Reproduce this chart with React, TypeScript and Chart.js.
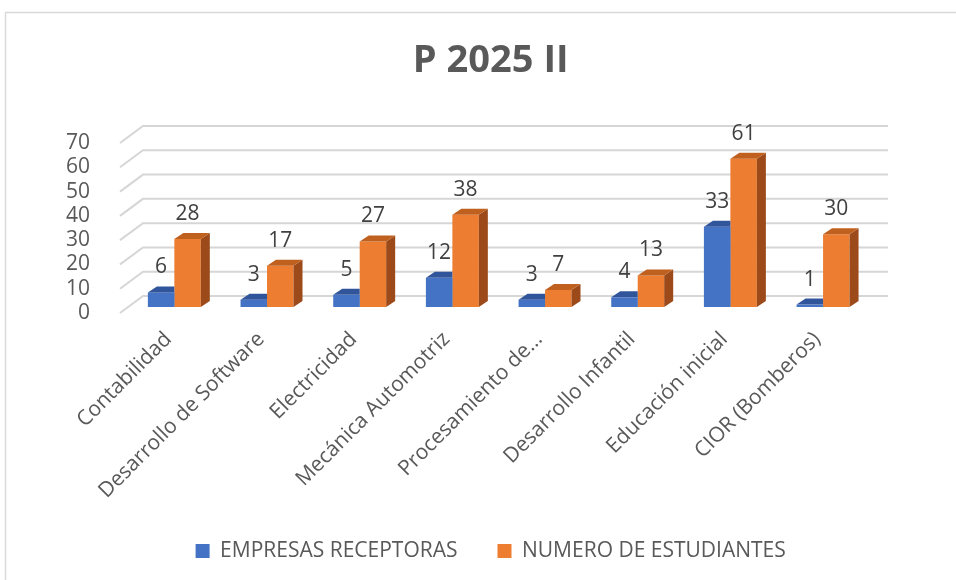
import React, { useEffect, useRef } from 'react';
import { Chart, registerables } from 'chart.js';

Chart.register(...registerables);

const titleText = 'P 2025 II';
const categories = [
  'Contabilidad',
  'Desarrollo de Software',
  'Electricidad',
  'Mecánica Automotriz',
  'Procesamiento de…',
  'Desarrollo Infantil',
  'Educación inicial',
  'CIOR (Bomberos)',
];
const seriesNames = ['EMPRESAS RECEPTORAS', 'NUMERO DE ESTUDIANTES'];
const empresas = [6, 3, 5, 12, 3, 4, 33, 1];
const estudiantes = [28, 17, 27, 38, 7, 13, 61, 30];
const yMin = 0;
const yMax = 70;
const yStep = 10;

const FONT = "'Open Sans', 'Noto Sans', sans-serif";
const frontColors = ['#4472C4', '#ED7D31'];
const topColors = ['#30559A', '#C0601F'];
const sideColors = ['#2C4E8C', '#9C4A19'];

// 3D offsets (pixels)
const BAR_SHIFT_X = 8;
const BAR_SHIFT_Y = -6;
const BAR_DEPTH_X = 9;
const BAR_DEPTH_Y = -6;
const WALL_X = 23;
const WALL_Y = -17;
const WALL_RIGHT = 888;

const threeDPlugin = {
  id: 'threeD',
  beforeDraw(chart: any) {
    const ctx = chart.ctx;
    ctx.save();
    ctx.fillStyle = '#ffffff';
    ctx.fillRect(0, 0, chart.width, chart.height);
    ctx.strokeStyle = '#D9D9D9';
    ctx.lineWidth = 1.5;
    ctx.strokeRect(5.5, 12.5, chart.width + 40, chart.height + 40);
    ctx.restore();
  },
  beforeDatasetsDraw(chart: any) {
    const { ctx, chartArea } = chart;
    const y = chart.scales.y;
    ctx.save();
    ctx.strokeStyle = '#D6D6D6';
    ctx.lineWidth = 2;
    y.ticks.forEach((t: any) => {
      const py = y.getPixelForValue(t.value);
      ctx.beginPath();
      ctx.moveTo(chartArea.left, py);
      ctx.lineTo(chartArea.left + WALL_X, py + WALL_Y);
      ctx.lineTo(WALL_RIGHT, py + WALL_Y);
      ctx.stroke();
    });
    ctx.restore();
    ctx.save();
    ctx.translate(BAR_SHIFT_X, BAR_SHIFT_Y);
  },
  afterDatasetDraw(chart: any, args: any) {
    const ctx = chart.ctx;
    const idx = args.index;
    args.meta.data.forEach((bar: any) => {
      const { x, y, base, width } = bar.getProps(['x', 'y', 'base', 'width'], true);
      const l = x - width / 2;
      const r = x + width / 2;
      ctx.save();
      if (idx === 0) {
        ctx.beginPath();
        ctx.rect(l - 2, 0, width + 2, chart.height);
        ctx.clip();
      }
      // side face
      ctx.fillStyle = sideColors[idx];
      ctx.beginPath();
      ctx.moveTo(r, y);
      ctx.lineTo(r + BAR_DEPTH_X, y + BAR_DEPTH_Y);
      ctx.lineTo(r + BAR_DEPTH_X, base + BAR_DEPTH_Y);
      ctx.lineTo(r, base);
      ctx.closePath();
      ctx.fill();
      // top face
      ctx.fillStyle = topColors[idx];
      ctx.beginPath();
      ctx.moveTo(l, y);
      ctx.lineTo(l + BAR_DEPTH_X, y + BAR_DEPTH_Y);
      ctx.lineTo(r + BAR_DEPTH_X, y + BAR_DEPTH_Y);
      ctx.lineTo(r, y);
      ctx.closePath();
      ctx.fill();
      ctx.restore();
    });
  },
  afterDatasetsDraw(chart: any) {
    const ctx = chart.ctx;
    ctx.save();
    ctx.font = `21px ${FONT}`;
    ctx.fillStyle = '#404040';
    ctx.textAlign = 'center';
    ctx.textBaseline = 'middle';
    chart.data.datasets.forEach((ds: any, i: number) => {
      const meta = chart.getDatasetMeta(i);
      meta.data.forEach((bar: any, j: number) => {
        ctx.fillText(String(ds.data[j]), bar.x, bar.y - 25);
      });
    });
    ctx.restore();
    ctx.restore(); // undo translate
  },
};

export default function App() {
  const canvasRef = useRef<HTMLCanvasElement | null>(null);

  useEffect(() => {
    const canvas = canvasRef.current;
    if (!canvas) return;
    const chart = new Chart(canvas, {
      type: 'bar',
      data: {
        labels: categories,
        datasets: [
          {
            label: seriesNames[0],
            data: empresas,
            backgroundColor: frontColors[0],
            borderColor: frontColors[0],
            borderWidth: 0,
            categoryPercentage: 0.5714,
            barPercentage: 1,
            clip: false as any,
          },
          {
            label: seriesNames[1],
            data: estudiantes,
            backgroundColor: frontColors[1],
            borderColor: frontColors[1],
            borderWidth: 0,
            categoryPercentage: 0.5714,
            barPercentage: 1,
            clip: false as any,
          },
        ],
      },
      options: {
        responsive: false,
        animation: false,
        devicePixelRatio: 1,
        layout: { padding: { left: 0, right: 94.6, top: 0, bottom: 8.5 } },
        plugins: {
          title: {
            display: true,
            text: titleText,
            fullSize: false,
            color: '#595959',
            font: { family: FONT, size: 38, weight: 'bold' },
            padding: { top: 38, bottom: 59.4 },
          },
          legend: {
            display: true,
            position: 'bottom',
            fullSize: false,
            labels: {
              color: '#595959',
              font: { family: FONT, size: 21 },
              boxWidth: 14,
              boxHeight: 14,
              padding: 40,
            },
          },
          tooltip: { enabled: false },
        },
        scales: {
          x: {
            grid: { display: false },
            border: { display: false },
            ticks: {
              color: '#595959',
              font: { family: FONT, size: 21 },
              minRotation: 45,
              maxRotation: 45,
              autoSkip: false,
              padding: 6,
              labelOffset: 2,
            },
            afterFit: (scale: any) => {
              scale.height = 187.5;
            },
          },
          y: {
            min: yMin,
            max: yMax,
            grid: { display: false },
            border: { display: false },
            ticks: {
              stepSize: yStep,
              autoSkip: false,
              color: '#595959',
              font: { family: FONT, size: 21 },
              padding: 22,
            },
            afterFit: (scale: any) => {
              scale.width = 120;
            },
          },
        },
      },
      plugins: [threeDPlugin],
    });
    return () => chart.destroy();
  }, []);

  return (
    <div style={{ position: 'absolute', left: 0, top: 0, width: 956, height: 580 }}>
      <canvas ref={canvasRef} width={956} height={580} style={{ display: 'block' }} />
    </div>
  );
}
